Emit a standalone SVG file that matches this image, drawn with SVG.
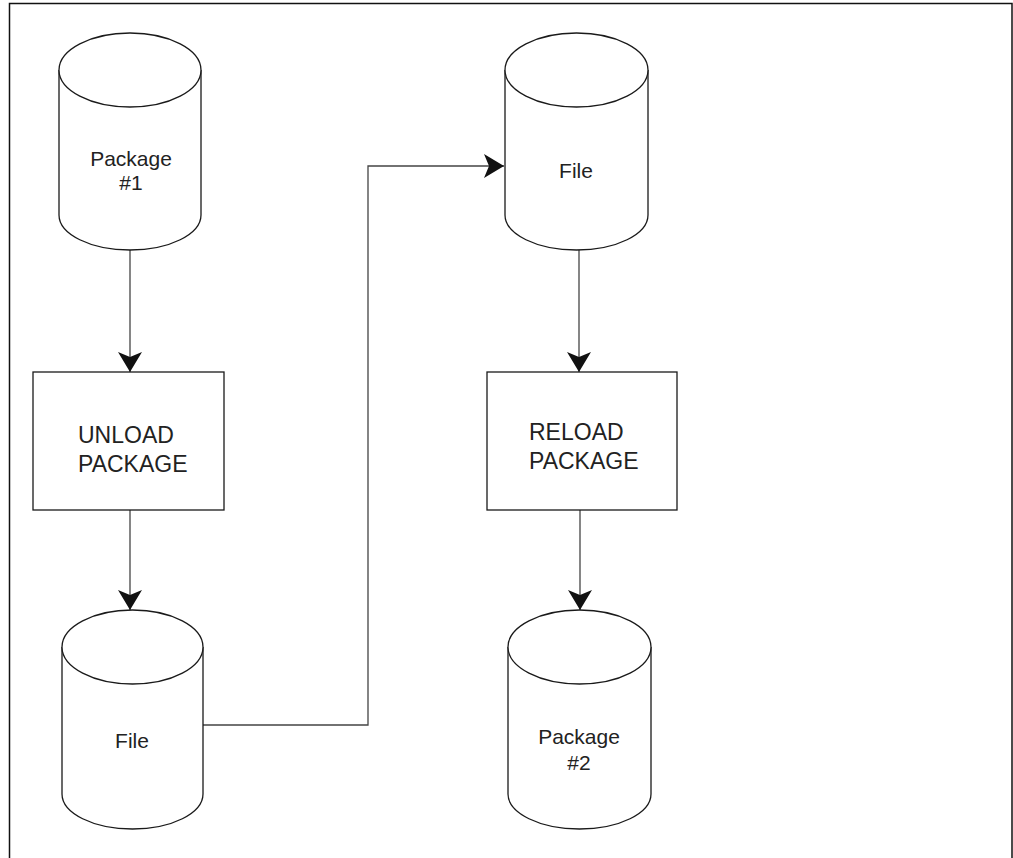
<svg xmlns="http://www.w3.org/2000/svg" width="1013" height="858" viewBox="0 0 1013 858">
<defs>
<style>
.shape{fill:#fff;stroke:#1a1a1a;stroke-width:1.3}
.conn{fill:none;stroke:#444;stroke-width:1.3}
.t{font-family:"Liberation Sans",Arial,sans-serif;fill:#222}
.cyl{font-size:21px;text-anchor:middle}
.box{font-size:23px}
</style>
<marker id="arr" viewBox="0 0 20 24" markerWidth="20" markerHeight="24" refX="20" refY="12" orient="auto" markerUnits="userSpaceOnUse">
<path d="M0,0 L20,12 L0,24 L5,12 Z" fill="#111"/>
</marker>
</defs>
<rect x="0" y="0" width="1013" height="858" fill="#fff"/>
<path d="M9.5,858 V3.5 H1012 V858" fill="none" stroke="#111" stroke-width="1.5"/>
<g id="connectors">
<path class="conn" d="M130,250 V372" marker-end="url(#arr)"/>
<path class="conn" d="M130,510 V610" marker-end="url(#arr)"/>
<path class="conn" d="M203,725 H368 V166 H504" marker-end="url(#arr)"/>
<path class="conn" d="M579,250 V372" marker-end="url(#arr)"/>
<path class="conn" d="M580,510 V610" marker-end="url(#arr)"/>
</g>
<g id="pkg1">
<path class="shape" d="M59,70 V215 A71,35 0 0 0 201,215 V70"/>
<ellipse class="shape" cx="130" cy="70" rx="71" ry="37"/>
<text class="t cyl" x="131" y="166">Package</text>
<text class="t cyl" x="131" y="190">#1</text>
</g>
<g id="unload">
<rect class="shape" x="33" y="372" width="191" height="138"/>
<text class="t box" x="78" y="443">UNLOAD</text>
<text class="t box" x="78" y="472">PACKAGE</text>
</g>
<g id="file1">
<path class="shape" d="M62,647 V794 A70.5,35 0 0 0 203,794 V647"/>
<ellipse class="shape" cx="132.5" cy="647" rx="70.5" ry="37"/>
<text class="t cyl" x="132" y="748">File</text>
</g>
<g id="file2">
<path class="shape" d="M505,70 V215 A71.5,35 0 0 0 648,215 V70"/>
<ellipse class="shape" cx="576.5" cy="70" rx="71.5" ry="37"/>
<text class="t cyl" x="576" y="178">File</text>
</g>
<g id="reload">
<rect class="shape" x="487" y="372" width="190" height="138"/>
<text class="t box" x="529" y="440">RELOAD</text>
<text class="t box" x="529" y="469">PACKAGE</text>
</g>
<g id="pkg2">
<path class="shape" d="M508,647 V794 A71.5,35 0 0 0 651,794 V647"/>
<ellipse class="shape" cx="579.5" cy="647" rx="71.5" ry="37"/>
<text class="t cyl" x="579" y="744">Package</text>
<text class="t cyl" x="579" y="770">#2</text>
</g>
</svg>
